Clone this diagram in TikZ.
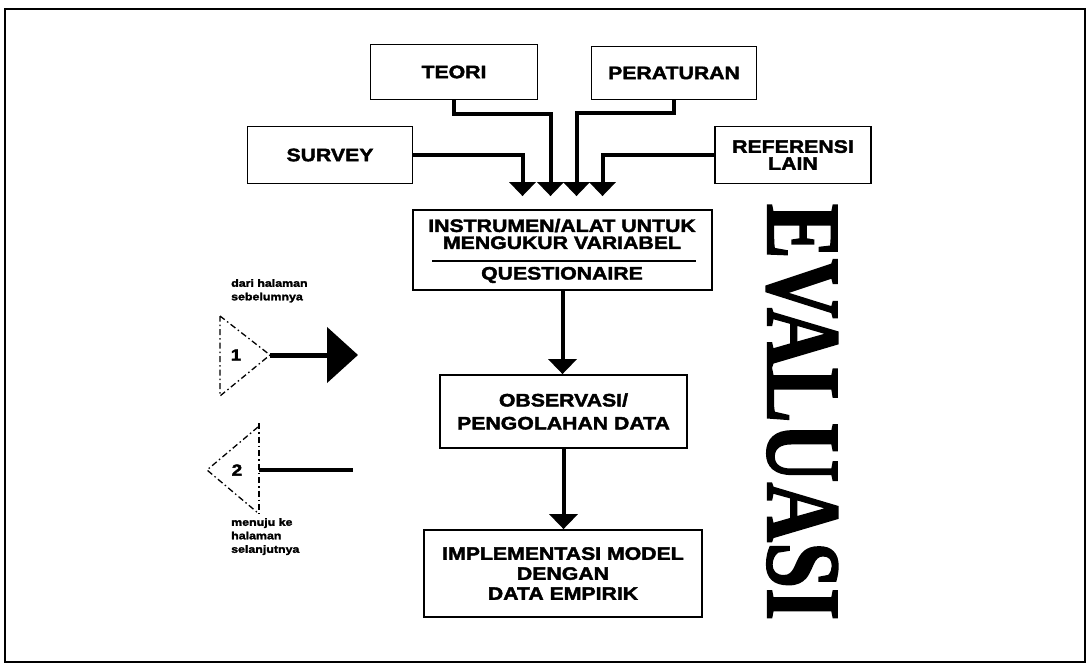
\documentclass[tikz,border=0pt]{standalone}
\usepackage{fontspec}
\usetikzlibrary{arrows.meta}
\newfontfamily\lblfont{Liberation Sans}[FakeStretch=1.18,FakeBold=2.2]
\newfontfamily\evfont{Liberation Serif}[FakeStretch=0.78,FakeBold=1.5]
\begin{document}
\begin{tikzpicture}[x=1pt,y=-1pt,
  box/.style={draw,line width=1.8pt,inner sep=0pt,align=center,
    font=\lblfont\bfseries\fontsize{18}{17}\selectfont},
  lbl/.style={inner sep=0pt,align=center,font=\lblfont\bfseries\fontsize{18}{17}\selectfont},
  small/.style={inner sep=0pt,align=left,font=\lblfont\bfseries\fontsize{10.5}{13.5}\selectfont},
  num/.style={inner sep=0pt,font=\lblfont\bfseries\fontsize{16}{16}\selectfont},
  conn/.style={line width=4pt,line join=miter},
  intip/.style={-{Triangle[length=14pt,width=26pt]},shorten >=13pt},
  downtip/.style={-{Triangle[length=15pt,width=28pt]}},
  tri/.style={line width=1.3pt,dash pattern=on 6pt off 3pt on 1.5pt off 3pt}]
\useasboundingbox (0,0) rectangle (1090,666);
% outer frame
\draw[line width=2.5pt] (5,9) rectangle (1085,662);

% sources
\node[box,minimum width=167pt,minimum height=55pt] (teori) at (454,72) {TEORI};
\node[box,minimum width=165pt,minimum height=53pt] (perat) at (674,73) {PERATURAN};
\node[box,minimum width=165pt,minimum height=57pt] (survey) at (330,155) {SURVEY};
\node[box,minimum width=156pt,minimum height=57pt] (refer) at (793,155) {REFERENSI\\LAIN};

% instrument box with its two parts
\node[box,minimum width=299pt,minimum height=80pt] (instr) at (562.5,250) {};
\node[lbl] (instrA) at (562,234) {INSTRUMEN/ALAT UNTUK\\MENGUKUR VARIABEL};
\node[lbl] (instrB) at (562,275) {QUESTIONAIRE};
\draw[line width=2.2pt] ([xshift=20pt,yshift=-11pt]instr.west) -- ([xshift=-17pt,yshift=-11pt]instr.east);

\node[box,minimum width=247pt,minimum height=73pt] (obs) at (563.5,411.5) {OBSERVASI/\\[6pt]PENGOLAHAN DATA};
\node[box,minimum width=278pt,minimum height=87pt] (impl) at (563,573.5) {IMPLEMENTASI MODEL\\[3pt]DENGAN\\[3pt]DATA EMPIRIK};

% inputs into the instrument
\draw[conn,intip] (survey.east) -| ([xshift=-40pt]instr.north);
\draw[conn,intip] (teori.south) -- ++(0,14) -| ([xshift=-12pt]instr.north);
\draw[conn,intip] (perat.south) -- ++(0,13) -| ([xshift=14pt]instr.north);
\draw[conn,intip] (refer.west) -| ([xshift=40pt]instr.north);

% main flow
\draw[conn,downtip] (instr.south) -- (instr.south |- obs.north);
\draw[conn,downtip] (obs.south) -- (obs.south |- impl.north);

% side title
\node[font=\evfont\bfseries\fontsize{106}{106}\selectfont,rotate=-90,inner sep=0pt] (eval) at (802,412) {EVALUASI};

% off-page connector: incoming
\node[small,anchor=north west] (fromlbl) at (231,279) {dari halaman\\sebelumnya};
\draw[tri] (220,316) -- (270,355) -- (220,396) -- cycle;
\node[num] (one) at (236,355) {1};
\coordinate (oneTip) at (270,355);
\coordinate (oneEnd) at (358,355);
\draw[line width=5pt,-{Triangle[length=31pt,width=55pt]}] (oneTip) -- (oneEnd);

% off-page connector: outgoing
\draw[tri] (258,427) -- (207,470) -- (258,513);
\draw[tri] (259,423) -- (259,514);
\node[num] (two) at (237,470) {2};
\coordinate (twoBase) at (259,470);
\coordinate (twoEnd) at (353,470);
\draw[line width=4pt] (twoBase) -- (twoEnd);
\node[small,anchor=north west] (tolbl) at (231,518) {menuju ke\\halaman\\selanjutnya};
\end{tikzpicture}
\end{document}
